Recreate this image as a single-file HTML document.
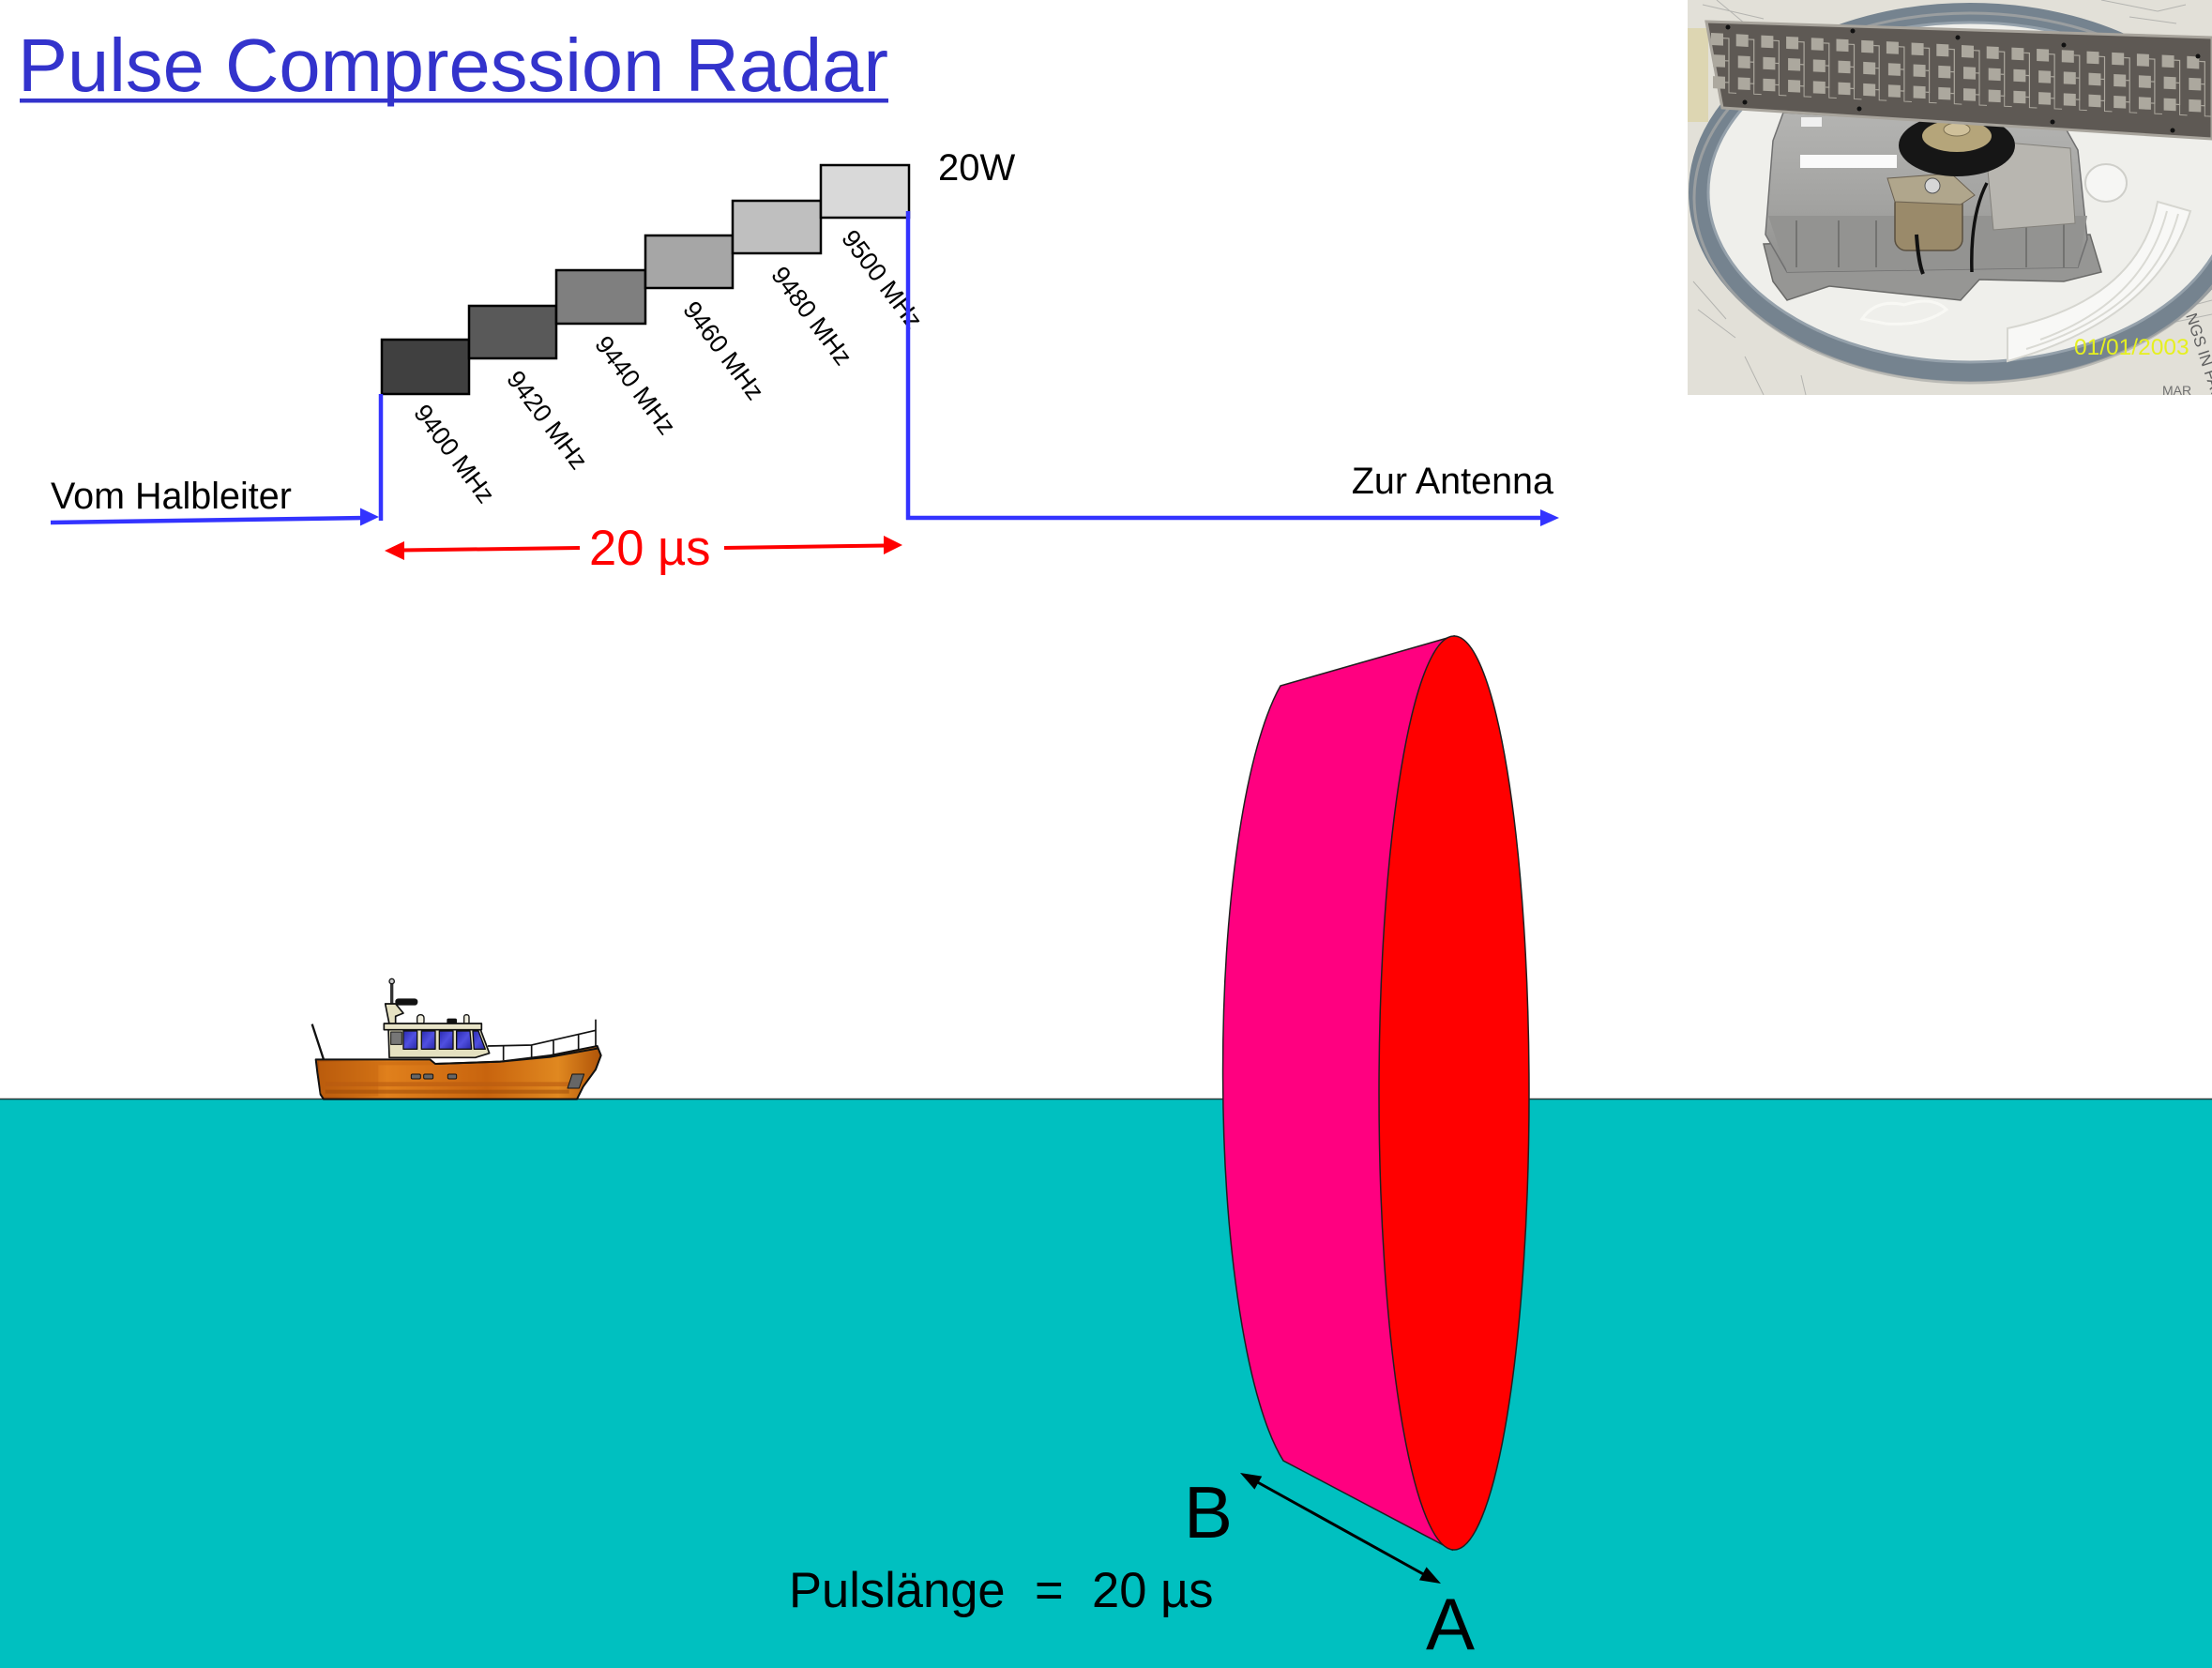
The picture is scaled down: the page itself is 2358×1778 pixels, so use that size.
<!DOCTYPE html>
<html>
<head>
<meta charset="utf-8">
<style>
html,body{margin:0;padding:0;background:#fff;}
svg{display:block;}
text{font-family:"Liberation Sans",Arial,sans-serif;}
</style>
</head>
<body>
<svg width="2358" height="1778" viewBox="0 0 2358 1778" xmlns="http://www.w3.org/2000/svg">
<defs>
  <linearGradient id="hull" x1="0" y1="0" x2="1" y2="0">
    <stop offset="0" stop-color="#a84c08"/>
    <stop offset="0.25" stop-color="#e0801c"/>
    <stop offset="0.6" stop-color="#c8640e"/>
    <stop offset="0.85" stop-color="#e08820"/>
    <stop offset="1" stop-color="#b05408"/>
  </linearGradient>
  <linearGradient id="win" x1="0" y1="0" x2="1" y2="1">
    <stop offset="0" stop-color="#2a2ab0"/>
    <stop offset="0.5" stop-color="#5050e0"/>
    <stop offset="1" stop-color="#2828a8"/>
  </linearGradient>
  <linearGradient id="boxg" x1="0" y1="0" x2="0" y2="1">
    <stop offset="0" stop-color="#b4b4b2"/>
    <stop offset="0.6" stop-color="#a2a2a0"/>
    <stop offset="1" stop-color="#8e8e8c"/>
  </linearGradient>
  <clipPath id="photoclip"><rect x="1799" y="0" width="559" height="421"/></clipPath>
  <g id="pcol">
    <rect x="0" y="0" width="13" height="13" fill="#aca89e"/>
    <rect x="2" y="23" width="13" height="13" fill="#aca89e"/>
    <rect x="2" y="46" width="13" height="13" fill="#aca89e"/>
    <path d="M13 5 H19 V52 H15 M15 29 H19" fill="none" stroke="#aca89e" stroke-width="1.2"/>
    <path d="M19 52 V63 H27" fill="none" stroke="#aca89e" stroke-width="1"/>
  </g>
</defs>

<!-- Title -->
<text x="19" y="97" font-size="79.5" fill="#3333cc">Pulse Compression Radar</text>
<rect x="21" y="105" width="926" height="4.5" fill="#3333cc"/>

<!-- Frequency blocks -->
<g stroke="#000" stroke-width="2.5">
  <rect x="407" y="362" width="93" height="58" fill="#404040"/>
  <rect x="500" y="326" width="93" height="56" fill="#595959"/>
  <rect x="593" y="288" width="95" height="57" fill="#7f7f7f"/>
  <rect x="688" y="251" width="93" height="56" fill="#a6a6a6"/>
  <rect x="781" y="214" width="94" height="56" fill="#bfbfbf"/>
  <rect x="875" y="176" width="94" height="56" fill="#d9d9d9"/>
</g>

<!-- rotated labels -->
<g font-size="27" fill="#000">
  <text transform="translate(440 440) rotate(53)">9400 MHz</text>
  <text transform="translate(539 404) rotate(53)">9420 MHz</text>
  <text transform="translate(633 367) rotate(53)">9440 MHz</text>
  <text transform="translate(727 330) rotate(53)">9460 MHz</text>
  <text transform="translate(821 293) rotate(53)">9480 MHz</text>
  <text transform="translate(896 254) rotate(53)">9500 MHz</text>
</g>

<text x="1000" y="192" font-size="40" fill="#000">20W</text>

<!-- Blue lines -->
<g stroke="#3333ff" stroke-width="4.5" fill="none">
  <line x1="54" y1="557" x2="388" y2="552"/>
  <line x1="406" y1="555" x2="406" y2="420"/>
  <line x1="968" y1="225" x2="968" y2="554"/>
  <line x1="966" y1="552" x2="1645" y2="552"/>
</g>
<polygon points="404,551 384,541.5 384,560.5" fill="#3333ff"/>
<polygon points="1662,552 1642,543 1642,561" fill="#3333ff"/>

<text x="54" y="542" font-size="39.5" fill="#000">Vom Halbleiter</text>
<text x="1656" y="526" font-size="39.5" fill="#000" text-anchor="end">Zur Antenna</text>

<!-- Red dimension -->
<g stroke="#ff0000" stroke-width="4">
  <line x1="428" y1="586.5" x2="618" y2="584"/>
  <line x1="772" y1="584" x2="945" y2="581.5"/>
</g>
<polygon points="410,587 431,577 431,597" fill="#ff0000"/>
<polygon points="962,581 942,571 942,591" fill="#ff0000"/>
<text x="628" y="602" font-size="52.5" fill="#ff0000">20 µs</text>

<!-- Water -->
<rect x="0" y="1172" width="2358" height="606" fill="#00c0c0"/>
<line x1="0" y1="1171.5" x2="2358" y2="1171.5" stroke="#2a3a3a" stroke-width="1.5"/>

<!-- Pulse cylinder -->
<path d="M1550,678 L1365,731 A96,440 0 0 0 1368,1557 L1548,1652 Z" fill="#ff0080" stroke="#202020" stroke-width="1.5"/>
<ellipse cx="1550" cy="1165" rx="80" ry="487" fill="#ff0000" stroke="#202020" stroke-width="1.5"/>

<!-- B-A arrow -->
<line x1="1337" y1="1578" x2="1521" y2="1680" stroke="#000" stroke-width="3"/>
<polygon points="1322,1570 1337.4,1587.6 1345.2,1573.6" fill="#000"/>
<polygon points="1536,1688 1512.9,1684.4 1520.6,1670.4" fill="#000"/>
<text x="1262" y="1639" font-size="78" fill="#000">B</text>
<text x="1520" y="1758" font-size="78" fill="#000">A</text>

<text x="841" y="1713" font-size="52.5" fill="#000">Pulslänge</text>
<text x="1103" y="1713" font-size="52.5" fill="#000">=</text>
<text x="1164" y="1713" font-size="52.5" fill="#000">20 µs</text>

<!-- Ship -->
<g transform="translate(320 1030) scale(0.33333)" stroke="#111" stroke-linejoin="round">
  <line x1="38" y1="185" x2="75" y2="298" stroke-width="7"/>
  <line x1="293" y1="52" x2="293" y2="130" stroke-width="10" stroke="#333"/>
  <circle cx="293" cy="48" r="8" fill="#ccc" stroke-width="4"/>
  <polygon points="272,120 305,120 330,150 305,160 305,185 285,185" fill="#e6e2c2" stroke-width="5"/>
  <rect x="305" y="104" width="70" height="20" rx="9" fill="#111" stroke-width="2"/>
  <rect x="374" y="155" width="22" height="32" rx="10" fill="#f0eede" stroke-width="4"/>
  <rect x="524" y="155" width="16" height="32" rx="7" fill="#f0eede" stroke-width="4"/>
  <rect x="470" y="168" width="30" height="17" rx="4" fill="#111" stroke-width="2"/>
  <polygon points="282,198 575,198 605,278 560,292 285,292" fill="#e4e0c0" stroke-width="5"/>
  <rect x="268" y="183" width="312" height="20" fill="#e8e4c8" stroke-width="5"/>
  <g fill="url(#win)" stroke-width="4">
    <rect x="330" y="207" width="44" height="58"/>
    <rect x="388" y="207" width="44" height="58"/>
    <rect x="445" y="207" width="44" height="58"/>
    <polygon points="500,207 543,207 548,265 500,265"/>
    <polygon points="552,207 570,207 592,265 556,265"/>
  </g>
  <rect x="290" y="210" width="35" height="40" fill="#777" stroke-width="3"/>
  <g fill="none" stroke-width="5">
    <polyline points="600,255 740,252 945,205"/>
    <line x1="650" y1="252" x2="650" y2="300"/>
    <line x1="740" y1="252" x2="740" y2="295"/>
    <line x1="810" y1="238" x2="810" y2="285"/>
    <line x1="890" y1="218" x2="890" y2="272"/>
    <line x1="945" y1="170" x2="945" y2="262"/>
  </g>
  <polygon points="50,298 270,298 415,298 432,312 640,305 800,285 950,255 962,285 945,330 905,385 885,425 75,425 65,410 55,340" fill="url(#hull)" stroke-width="6"/>
  <polygon points="60,305 415,305 430,316 250,316 250,415 75,418 65,405" fill="#c86810" stroke="none" opacity="0.55"/>
  <rect x="80" y="370" width="800" height="14" fill="#b85a10" stroke="none" opacity="0.6"/>
  <rect x="80" y="395" width="780" height="12" fill="#9a4808" stroke="none" opacity="0.5"/>
  <polyline points="432,312 640,305 800,290 955,262" fill="none" stroke-width="6"/>
  <g fill="#666" stroke-width="3">
    <rect x="355" y="345" width="30" height="15" rx="4"/>
    <rect x="395" y="345" width="30" height="15" rx="4"/>
    <rect x="472" y="345" width="28" height="15" rx="4"/>
    <polygon points="870,345 908,345 892,390 855,390"/>
  </g>
</g>

<!-- Photo -->
<g clip-path="url(#photoclip)">
  <rect x="1799" y="0" width="559" height="421" fill="#e2e0d8"/>
  <rect x="1799" y="30" width="22" height="100" fill="#ddd6b2"/>
  <g stroke="#b4b4b0" stroke-width="1" fill="none">
    <path d="M1815 5 L1880 20 M1830 0 L1860 25 M2240 0 L2300 12 L2330 5 M2270 18 L2320 25"/>
    <path d="M1805 300 L1840 340 M1810 330 L1850 360 M1860 380 L1880 421 M1920 400 L1925 421"/>
    <path d="M2320 330 L2358 320 M2310 345 L2358 335"/>
  </g>
  <!-- ring -->
  <ellipse cx="2100" cy="205" rx="290" ry="192" fill="#efefeb" stroke="#75838f" stroke-width="20"/>
  <ellipse cx="2100" cy="205" rx="279" ry="181" fill="none" stroke="#95a1ab" stroke-width="3"/>
  <ellipse cx="2100" cy="211" rx="294" ry="197" fill="none" stroke="#a9a9a6" stroke-width="3" opacity="0.7"/>
  <!-- white arm -->
  <path d="M2140 385 Q2300 340 2335 225 L2300 215 Q2280 320 2140 350 Z" fill="#f8f8f6" stroke="#d6d6d0" stroke-width="2"/>
  <g fill="none" stroke="#dadad4" stroke-width="2">
    <path d="M2160 372 Q2295 330 2322 228"/>
    <path d="M2175 362 Q2285 322 2310 225"/>
  </g>
  <ellipse cx="2245" cy="195" rx="22" ry="20" fill="#f6f6f4" stroke="#cfcfca" stroke-width="2"/>
  <!-- base plate -->
  <polygon points="1880,260 2228,250 2240,290 2200,300 2110,298 2090,320 1950,305 1905,320 1890,300" fill="#969694" stroke="#6a6a68" stroke-width="1.5"/>
  <!-- box -->
  <polygon points="1901,120 2202,137 2215,160 2225,255 2215,285 1905,290 1882,250 1890,150" fill="url(#boxg)" stroke="#707070" stroke-width="1.5"/>
  <polygon points="1885,230 2225,230 2215,285 1905,290" fill="#939391"/>
  <g stroke="#737371" stroke-width="2">
    <line x1="1915" y1="235" x2="1915" y2="285"/>
    <line x1="1960" y1="235" x2="1960" y2="285"/>
    <line x1="2000" y1="235" x2="2000" y2="285"/>
    <line x1="2160" y1="235" x2="2160" y2="285"/>
    <line x1="2200" y1="235" x2="2200" y2="285"/>
  </g>
  <polygon points="2116,150 2207,158 2212,238 2125,245" fill="#b8b6b0" stroke="#84827c" stroke-width="1"/>
  <rect x="1919" y="165" width="103" height="14" fill="#fafafa"/>
  <rect x="1920" y="125" width="22" height="10" fill="#f0f0f0"/>
  <!-- brass motor -->
  <rect x="2020" y="205" width="72" height="62" rx="12" fill="#9a8a6a" stroke="#5a5040" stroke-width="1.5"/>
  <polygon points="2012,190 2080,185 2105,208 2090,218 2020,215" fill="#b0a68c" stroke="#6a6050" stroke-width="1"/>
  <circle cx="2060" cy="198" r="8" fill="#d6d6d6" stroke="#555" stroke-width="1"/>
  <path d="M2043 250 Q2045 280 2050 292" fill="none" stroke="#111" stroke-width="4"/>
  <path d="M2118 195 Q2100 230 2102 290" fill="none" stroke="#111" stroke-width="3.5"/>
  <!-- black drive -->
  <ellipse cx="2086" cy="155" rx="62" ry="33" fill="#161616"/>
  <ellipse cx="2086" cy="145" rx="37" ry="17" fill="#b5a57a"/>
  <ellipse cx="2086" cy="138" rx="14" ry="7" fill="#cfc09a" stroke="#7a6e50" stroke-width="1"/>
  <!-- rope -->
  <path d="M1985 340 Q2000 318 2030 325 Q2060 315 2075 330 Q2050 348 2010 345 Z" fill="none" stroke="#f8f8f4" stroke-width="3"/>
  <!-- antenna plate -->
  <polygon points="1819,23 2358,40 2358,148 1836,115" fill="#5e5954" stroke="#a8a49c" stroke-width="3"/>
  <g transform="translate(1824 35) skewY(2.8)">
    <use href="#pcol" x="0"/>
    <use href="#pcol" x="26.7"/>
    <use href="#pcol" x="53.4"/>
    <use href="#pcol" x="80.1"/>
    <use href="#pcol" x="106.8"/>
    <use href="#pcol" x="133.5"/>
    <use href="#pcol" x="160.2"/>
    <use href="#pcol" x="186.9"/>
    <use href="#pcol" x="213.6"/>
    <use href="#pcol" x="240.3"/>
    <use href="#pcol" x="267"/>
    <use href="#pcol" x="293.7"/>
    <use href="#pcol" x="320.4"/>
    <use href="#pcol" x="347.1"/>
    <use href="#pcol" x="373.8"/>
    <use href="#pcol" x="400.5"/>
    <use href="#pcol" x="427.2"/>
    <use href="#pcol" x="453.9"/>
    <use href="#pcol" x="480.6"/>
    <use href="#pcol" x="507.3"/>
  </g>
  <g fill="#111">
    <circle cx="1842" cy="29" r="2.5"/><circle cx="1975" cy="33" r="2.5"/>
    <circle cx="2087" cy="40" r="2.5"/><circle cx="2200" cy="48" r="2.5"/>
    <circle cx="2343" cy="60" r="2.5"/><circle cx="1860" cy="109" r="2.5"/>
    <circle cx="1982" cy="116" r="2.5"/><circle cx="2188" cy="130" r="2.5"/>
    <circle cx="2316" cy="139" r="2.5"/>
  </g>
  <!-- date stamp -->
  <text x="2211" y="378" font-size="24.5" fill="#e6f020">01/01/2003</text>
  <text transform="translate(2330 336) rotate(72)" font-size="17" fill="#606060">NGS IN FATHO</text>
  <text x="2305" y="421" font-size="14" fill="#707070">MAR</text>
</g>
</svg>
</body>
</html>
